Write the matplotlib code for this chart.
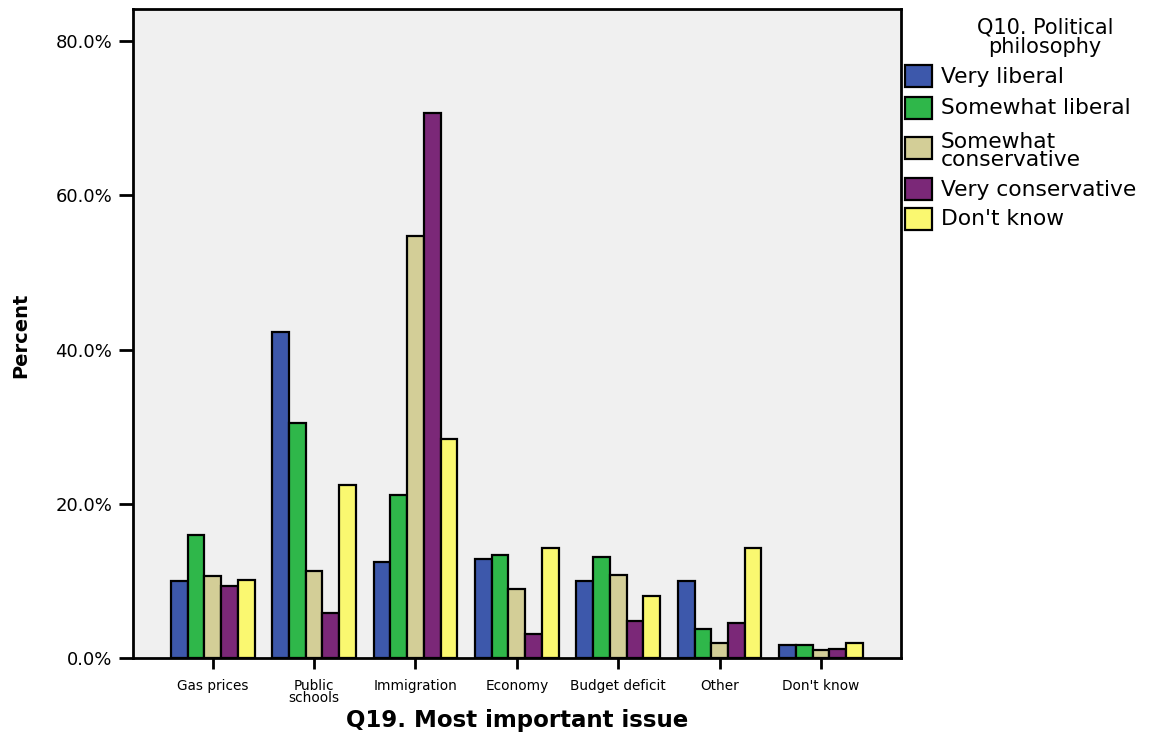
import matplotlib
matplotlib.use("Agg")
import matplotlib.pyplot as plt
from matplotlib.patches import Rectangle
from matplotlib.ticker import FuncFormatter
import numpy as np

categories = ["Gas prices", "Public\nschools", "Immigration", "Economy",
              "Budget deficit", "Other", "Don't know"]
series_names = ["Very liberal", "Somewhat liberal", "Somewhat\nconservative",
                "Very conservative", "Don't know"]
very_liberal = [10.0, 42.3, 12.4, 12.9, 10.0, 10.0, 1.7]
somewhat_liberal = [16.0, 30.5, 21.1, 13.4, 13.1, 3.8, 1.7]
somewhat_conservative = [10.6, 11.3, 54.7, 8.9, 10.8, 2.0, 1.0]
very_conservative = [9.3, 5.8, 70.7, 3.1, 4.8, 4.5, 1.2]
dont_know = [10.1, 22.4, 28.4, 14.2, 8.0, 14.2, 1.9]
yticks = [0, 20, 40, 60, 80]

series = [very_liberal, somewhat_liberal, somewhat_conservative,
          very_conservative, dont_know]
colors = ["#3D58AB", "#2FB74A", "#D3CE97", "#7B2878", "#FAF870"]

plt.rcParams['font.family'] = ['DejaVu Sans']

W, H = 1154, 752
fig = plt.figure(figsize=(W / 100, H / 100), dpi=100)
ax = fig.add_axes([133 / W, (H - 658) / H, 768 / W, 649 / H])
ax.set_facecolor("#F0F0F0")

x = np.arange(len(categories))
bw = 0.165
for i, (vals, c) in enumerate(zip(series, colors)):
    ax.bar(x + (i - 2) * bw, vals, width=bw, color=c, edgecolor="black",
           linewidth=1.6, zorder=3)

ax.set_xlim(-0.786, 6.789)
ax.set_ylim(0, 84.15)
ax.set_yticks(yticks)
ax.yaxis.set_major_formatter(FuncFormatter(lambda v, p: f"{v:.1f}%"))
ax.set_xticks(x)
ax.set_xticklabels(categories, fontsize=9.8, linespacing=0.85)
ax.tick_params(axis="y", labelsize=13, length=10, width=2, pad=5)
ax.tick_params(axis="x", length=8, width=2, pad=7)
for s in ax.spines.values():
    s.set_linewidth(2)

fig.text(517 / W, 1 - 720 / H, "Q19. Most important issue", ha="center",
         va="center", fontsize=16.5, fontweight="bold")
fig.text(21 / W, 1 - 335 / H, "Percent", ha="center", va="center",
         rotation=90, fontsize=14, fontweight="bold")

# legend
fig.text(1045 / W, 1 - 37 / H, "Q10. Political\nphilosophy", ha="center",
         va="center", fontsize=15, linespacing=0.95)
patch_y = [65, 97, 137, 178, 208]
text_y = [77, 108, 151, 190, 219]
for name, c, py, ty in zip(series_names, colors, patch_y, text_y):
    fig.add_artist(Rectangle((905 / W, 1 - (py + 22) / H), 27 / W, 22 / H,
                             facecolor=c, edgecolor="black", linewidth=1.6,
                             transform=fig.transFigure))
    fig.text(941 / W, 1 - ty / H, name, ha="left", va="center",
             fontsize=15.7, linespacing=0.85)

fig.savefig("out.png", dpi=100)
